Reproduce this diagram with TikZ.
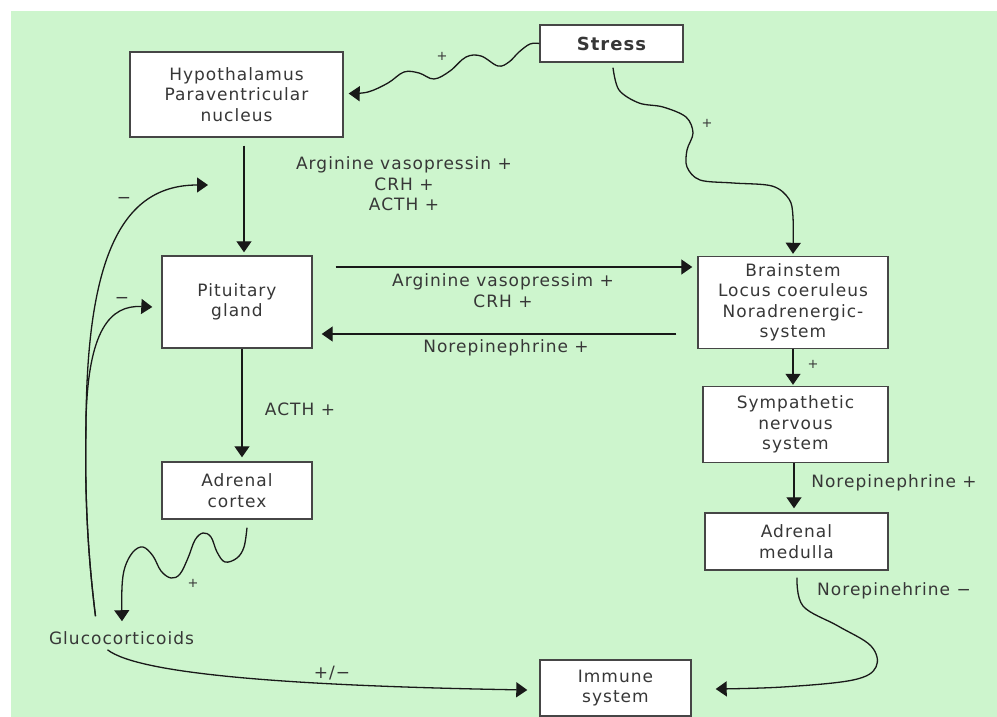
\documentclass[tikz,border=0pt]{standalone}
\usepackage{fontspec}
\setmainfont{DejaVu Sans}[LetterSpace=6]
\usetikzlibrary{arrows.meta,calc}
\definecolor{bggreen}{RGB}{205,245,205}
\definecolor{txt}{RGB}{55,55,55}
\definecolor{ln}{RGB}{25,25,25}
\definecolor{boxline}{RGB}{70,70,70}
\begin{document}
\begin{tikzpicture}[x=1pt,y=-1pt,
 box/.style={draw=boxline, line width=1.4pt, fill=white, inner sep=0pt, align=center, text=txt, font=\fontsize{17}{20.5}\selectfont},
 lbl/.style={text=txt, align=center, inner sep=0pt, font=\fontsize{17}{20.5}\selectfont},
 sgn/.style={text=txt, inner sep=0pt, font=\fontsize{13}{15}\selectfont},
 arr/.style={draw=ln, line width=1.3pt, -{Triangle[length=11pt,width=15pt]}},
]
\useasboundingbox (0,0) rectangle (997,717);
\fill[white] (0,0) rectangle (997,717);
\fill[bggreen] (11,11) rectangle (997,717);

% boxes
\node[box, minimum width=143pt, minimum height=37pt, font=\fontsize{18}{20}\selectfont\bfseries] (stress) at (611.5,43.5) {Stress};
\node[box, minimum width=213pt, minimum height=85pt] (hypo) at (236.5,94.5) {Hypothalamus\\Paraventricular\\nucleus};
\node[box, minimum width=150pt, minimum height=92pt] (pit) at (237,302) {Pituitary\\gland};
\node[box, minimum width=190pt, minimum height=92pt] (brain) at (793,302.5) {Brainstem\\Locus coeruleus\\Noradrenergic-\\system};
\node[box, minimum width=185pt, minimum height=76pt] (symp) at (795.5,424.5) {Sympathetic\\nervous\\system};
\node[box, minimum width=150pt, minimum height=57pt] (cortex) at (237,490.5) {Adrenal\\cortex};
\node[box, minimum width=183pt, minimum height=57pt] (medulla) at (796.5,541.5) {Adrenal\\medulla};
\node[box, minimum width=151pt, minimum height=56pt] (immune) at (615.5,688) {Immune\\system};
\node[lbl] (gluco) at (121.5,638) {Glucocorticoids};
\coordinate (fbtop) at (208,185);

% straight arrows
\draw[arr] ($(hypo.south)+(7.5,8)$) -- ($(pit.north)+(7,-3)$);
\draw[arr] ($(pit.east)+(23,-35)$) -- ($(brain.west)+(-5,-35.5)$);
\draw[arr] ($(brain.west)+(-21,31.5)$) -- ($(pit.east)+(9,32)$);
\draw[arr] ($(pit.south)+(5,0)$) -- ($(cortex.north)+(5,-4)$);
\draw[arr] (brain.south) -- ($(brain.south |- symp.north)+(0,-1)$);
\draw[arr] ($(symp.south)+(-1.5,0)$) -- ($(symp.south |- medulla.north)+(-1.5,-4)$);

% wavy stress -> hypothalamus
\draw[arr] plot[smooth, tension=0.6] coordinates {(stress.west) (530,44) (519,52) (509,62) (498,66) (481,56) (466,57) (450,71) (434,79) (419,73) (404,72) (388,83) (368,92) ($(hypo.east)+(5,-1)$)};
\node[sgn] (p1) at (442,56) {+};

% stress -> brainstem
\draw[arr] plot[smooth, tension=0.55] coordinates {($(stress.south)+(1.5,5)$) (619,90) (639,103) (663,107) (686,117) (693,133) (687,150) (687,167) (700,180) (733,183) (772,186) (789,199) (793,217) ($(brain.north)+(0,-2)$)};
\node[sgn] (p2) at (707,123) {+};

% labels
\node[lbl] (l1) at (404,184) {Arginine vasopressin +\\CRH +\\ACTH +};
\node[lbl] (l2) at (503,290.5) {Arginine vasopressim +\\CRH +};
\node[lbl] (l3) at (506,348) {Norepinephrine +};
\node[lbl] (l4) at (300,409) {ACTH +};
\node[sgn] (p3) at (813,364) {+};
\node[lbl] (l5) at (894,483) {Norepinephrine +};
\node[lbl] (l6) at (894,591) {Norepinehrine −};

% cortex -> glucocorticoids
\draw[arr] plot[smooth, tension=0.6] coordinates {($(cortex.south)+(10,8)$) (244,547) (237,558) (225,562) (217,552) (211,537) (203,533) (195,540) (188,558) (180,574) (171,578) (161,571) (153,556) (143,547) (133,552) (125,567) (122,587) ($(gluco.north)+(0.5,-10)$)};
\node[sgn] (p4) at (193,583) {+};

% feedback loops
\draw[arr] ($(gluco.north)+(-26,-15)$) .. controls (86,540) and (85,480) .. (86,430) .. controls (86,250) and (125,185) .. (fbtop);
\draw[arr] ($(gluco.north)+(-26,-15)$) .. controls (86,540) and (85,480) .. (86,420) .. controls (88,330) and (110,305) .. ($(pit.west)+(-9,5)$);
\node[lbl] (m1) at (124,200) {−};
\node[lbl] (m2) at (122,300) {−};

% glucocorticoids -> immune
\draw[arr] ($(gluco.south)+(-14,5)$) .. controls (140,675) and (300,686) .. ($(immune.west)+(-12,2)$);
\node[lbl] (pm) at (332,673) {+/−};

% medulla -> immune
\draw[arr] plot[smooth, tension=0.6] coordinates {($(medulla.south)+(0.5,7)$) (803,606) (838,626) (871,646) (876,667) (853,680) (783,687) ($(immune.east)+(24,1)$)};
\end{tikzpicture}
\end{document}
